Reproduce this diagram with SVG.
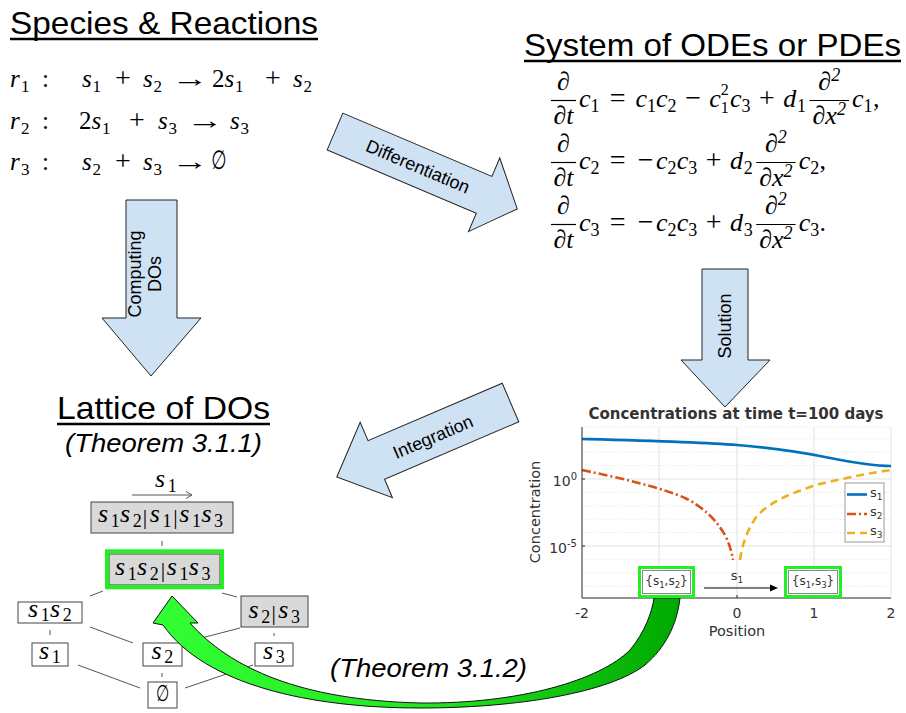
<svg xmlns="http://www.w3.org/2000/svg" width="906" height="713" viewBox="0 0 906 713">
<defs>
<style>
.t{font-family:"Liberation Sans",Arial,sans-serif;fill:#000}
.e{font-family:"Liberation Serif","DejaVu Serif",serif;fill:#000;font-size:26px}
.r{font-family:"Liberation Serif","DejaVu Serif",serif;fill:#000;font-size:25px}
.i{font-style:italic}
.s16{font-size:17px}
.s18{font-size:18px}
.sp{font-size:16px}
.op{font-size:28px}
.op2{font-size:28px}
.fb{stroke:#000;stroke-width:1.2}
.blk{fill:#cfe2f3;stroke:#222;stroke-width:1}
.lab{font-family:"Liberation Sans",Arial,sans-serif;font-size:18px;fill:#000}
.ln{stroke:#555;stroke-width:1;fill:none}
.wb{fill:#fff;stroke:#444;stroke-width:1}
.gb{fill:#d9d9d9;stroke:#444;stroke-width:1}
.lt{font-family:"Liberation Serif","DejaVu Serif",serif;font-size:26px;fill:#000}
.grn{fill:none;stroke:#22f022;stroke-width:4}
.ch{font-family:"DejaVu Sans",sans-serif;fill:#333}
.grid{stroke:#e2e2e2;stroke-width:1}
.minor{stroke:#dcdcdc;stroke-width:0.8;stroke-dasharray:1 2}
.ax{stroke:#262626;stroke-width:1;fill:none}
</style>
<linearGradient id="gg" x1="0" y1="0" x2="1" y2="0">
<stop offset="0" stop-color="#33ff33"/><stop offset="0.5" stop-color="#22e822"/><stop offset="1" stop-color="#00a800"/>
</linearGradient>
</defs>
<rect width="906" height="713" fill="#fff"/>

<!-- Titles -->
<g id="title-species">
<text class="t" x="10" y="34" font-size="32" textLength="308" lengthAdjust="spacingAndGlyphs">Species &amp; Reactions</text>
<line x1="10" y1="39" x2="318" y2="39" stroke="#000" stroke-width="2.5"/>
</g>
<g id="title-odes">
<text class="t" x="524" y="56" font-size="32" textLength="377" lengthAdjust="spacingAndGlyphs">System of ODEs or PDEs</text>
<line x1="524" y1="61" x2="901" y2="61" stroke="#000" stroke-width="2.5"/>
</g>
<g id="title-lattice">
<text class="t" x="57" y="419" font-size="32" textLength="213" lengthAdjust="spacingAndGlyphs">Lattice of DOs</text>
<line x1="57" y1="424" x2="270" y2="424" stroke="#000" stroke-width="2.5"/>
<text class="t" x="65" y="452" font-size="25" font-style="italic" textLength="197" lengthAdjust="spacingAndGlyphs">(Theorem 3.1.1)</text>
</g>

<!-- Reactions -->
<g id="reactions">
<text class="r"><tspan class="i" x="10" y="87">r</tspan><tspan class="s16" x="21" y="92">1</tspan><tspan x="42" y="87">:</tspan><tspan class="i" x="82" y="87">s</tspan><tspan class="s16" x="92.5" y="92">1</tspan><tspan class="op2" x="115.1" y="87">+</tspan><tspan class="i" x="143" y="87">s</tspan><tspan class="s16" x="153.5" y="92">2</tspan><tspan x="212" y="87">2</tspan><tspan class="i" x="224.5" y="87">s</tspan><tspan class="s16" x="235" y="92">1</tspan><tspan class="op2" x="265.1" y="87">+</tspan><tspan class="i" x="293" y="87">s</tspan><tspan class="s16" x="303.5" y="92">2</tspan></text>
<text class="r" x="0" y="0" text-anchor="middle" font-size="26" transform="translate(190,87) scale(1.5,1)">→</text>
<text class="r"><tspan class="i" x="10" y="129">r</tspan><tspan class="s16" x="21" y="134">2</tspan><tspan x="42" y="129">:</tspan><tspan x="79" y="129">2</tspan><tspan class="i" x="91.5" y="129">s</tspan><tspan class="s16" x="102" y="134">1</tspan><tspan class="op2" x="129.1" y="129">+</tspan><tspan class="i" x="158" y="129">s</tspan><tspan class="s16" x="168.5" y="134">3</tspan><tspan class="i" x="230" y="129">s</tspan><tspan class="s16" x="240.5" y="134">3</tspan></text>
<text class="r" x="0" y="0" text-anchor="middle" font-size="26" transform="translate(205,129) scale(1.5,1)">→</text>
<text class="r"><tspan class="i" x="10" y="170">r</tspan><tspan class="s16" x="21" y="175">3</tspan><tspan x="42" y="170">:</tspan><tspan class="i" x="82" y="170">s</tspan><tspan class="s16" x="92.5" y="175">2</tspan><tspan class="op2" x="115.1" y="170">+</tspan><tspan class="i" x="143" y="170">s</tspan><tspan class="s16" x="153.5" y="175">3</tspan></text>
<text class="r" x="0" y="0" text-anchor="middle" font-size="26" transform="translate(190,170) scale(1.5,1)">→</text>
<text x="0" y="0" text-anchor="middle" font-family="DejaVu Sans, sans-serif" font-size="22" transform="translate(219,169) scale(0.8,1.2)">∅</text>
</g>

<!-- Equations -->
<g id="eq1" transform="translate(0,107)">
<text class="e i" x="563.5" y="-17" text-anchor="middle">∂</text>
<line class="fb" x1="551" y1="-6.5" x2="576" y2="-6.5"/>
<text class="e i" x="563.5" y="17" text-anchor="middle">∂t</text>
<text class="e"><tspan class="i" x="579" y="0">c</tspan><tspan class="s18" x="590.5" y="5">1</tspan><tspan class="op" x="609.8" y="0">=</tspan><tspan class="i" x="635.4" y="0">c</tspan><tspan class="s18" x="646.9" y="5">1</tspan><tspan class="i" x="656.1" y="0">c</tspan><tspan class="s18" x="667.6" y="5">2</tspan><tspan class="op" x="685.2" y="0">−</tspan><tspan class="i" x="709.3" y="0">c</tspan><tspan class="sp" x="720.8" y="-12">2</tspan><tspan class="sp" x="720.8" y="6">1</tspan><tspan class="i" x="730.1" y="0">c</tspan><tspan class="s18" x="741.6" y="5">3</tspan><tspan class="op" x="759.1" y="0">+</tspan><tspan class="i" x="783.2" y="0">d</tspan><tspan class="s18" x="797" y="5">1</tspan><tspan class="i" x="852.1" y="0">c</tspan><tspan class="s18" x="863.6" y="5">1</tspan><tspan x="872.9" y="0">,</tspan></text>
<text class="e i" x="829.2" y="-17" text-anchor="middle">∂<tspan class="s18" dy="-9">2</tspan></text>
<line class="fb" x1="809.5" y1="-6.5" x2="849" y2="-6.5"/>
<text class="e i" x="829.2" y="17" text-anchor="middle">∂x<tspan class="s18" dy="-9">2</tspan></text>
</g>
<g id="eq2" transform="translate(0,169)">
<text class="e i" x="563.5" y="-17" text-anchor="middle">∂</text>
<line class="fb" x1="551" y1="-6.5" x2="576" y2="-6.5"/>
<text class="e i" x="563.5" y="17" text-anchor="middle">∂t</text>
<text class="e"><tspan class="i" x="579" y="0">c</tspan><tspan class="s18" x="590.5" y="5">2</tspan><tspan class="op" x="609.8" y="0">=</tspan><tspan class="op" x="637.8" y="0">−</tspan><tspan class="i" x="656" y="0">c</tspan><tspan class="s18" x="667.5" y="5">2</tspan><tspan class="i" x="676.8" y="0">c</tspan><tspan class="s18" x="688.3" y="5">3</tspan><tspan class="op" x="705.8" y="0">+</tspan><tspan class="i" x="729.9" y="0">d</tspan><tspan class="s18" x="743.7" y="5">2</tspan><tspan class="i" x="798.8" y="0">c</tspan><tspan class="s18" x="810.3" y="5">2</tspan><tspan x="819.6" y="0">,</tspan></text>
<text class="e i" x="775.9" y="-17" text-anchor="middle">∂<tspan class="s18" dy="-9">2</tspan></text>
<line class="fb" x1="756.2" y1="-6.5" x2="795.6" y2="-6.5"/>
<text class="e i" x="775.9" y="17" text-anchor="middle">∂x<tspan class="s18" dy="-9">2</tspan></text>
</g>
<g id="eq3" transform="translate(0,231)">
<text class="e i" x="563.5" y="-17" text-anchor="middle">∂</text>
<line class="fb" x1="551" y1="-6.5" x2="576" y2="-6.5"/>
<text class="e i" x="563.5" y="17" text-anchor="middle">∂t</text>
<text class="e"><tspan class="i" x="579" y="0">c</tspan><tspan class="s18" x="590.5" y="5">3</tspan><tspan class="op" x="609.8" y="0">=</tspan><tspan class="op" x="637.8" y="0">−</tspan><tspan class="i" x="656" y="0">c</tspan><tspan class="s18" x="667.5" y="5">2</tspan><tspan class="i" x="676.8" y="0">c</tspan><tspan class="s18" x="688.3" y="5">3</tspan><tspan class="op" x="705.8" y="0">+</tspan><tspan class="i" x="729.9" y="0">d</tspan><tspan class="s18" x="743.7" y="5">3</tspan><tspan class="i" x="798.8" y="0">c</tspan><tspan class="s18" x="810.3" y="5">3</tspan><tspan x="819.6" y="0">.</tspan></text>
<text class="e i" x="775.9" y="-17" text-anchor="middle">∂<tspan class="s18" dy="-9">2</tspan></text>
<line class="fb" x1="756.2" y1="-6.5" x2="795.6" y2="-6.5"/>
<text class="e i" x="775.9" y="17" text-anchor="middle">∂x<tspan class="s18" dy="-9">2</tspan></text>
</g>

<!-- Block arrows -->
<g id="connectors">
<g id="arrow-computing">
<polygon class="blk" points="126,200 177,200 177,318 201,318 151,376 102,318 126,318"/>
<text class="lab" transform="translate(146,274) rotate(-90)" text-anchor="middle"><tspan x="0" y="-5">Computing</tspan><tspan x="0" y="15">DOs</tspan></text>
</g>
<g id="arrow-differentiation" transform="translate(335,131.5) rotate(23)">
<polygon class="blk" points="0,-20 162,-20 162,-40 198,0 162,40 162,20 0,20"/>
<text class="lab" x="90" y="6" text-anchor="middle">Differentiation</text>
</g>
<g id="arrow-solution">
<polygon class="blk" points="702,269 748,269 748,360 770,360 725,407 681,360 702,360"/>
<text class="lab" transform="translate(731,326) rotate(-90)" text-anchor="middle" x="0" y="0">Solution</text>
</g>
<g id="arrow-integration">
<polygon class="blk" transform="translate(510.5,402.5) rotate(156.8)" points="0,-21 146,-21 146,-41 189,0 146,41 146,21 0,21"/>
<text class="lab" transform="translate(433,437) rotate(-23.2)" x="0" y="6" text-anchor="middle">Integration</text>
</g>
</g>

<!-- Chart -->
<g id="chart">
<g>
<line class="grid" x1="659" y1="427" x2="659" y2="598"/>
<line class="grid" x1="737" y1="427" x2="737" y2="598"/>
<line class="grid" x1="814" y1="427" x2="814" y2="598"/>
<line class="grid" x1="891" y1="427" x2="891" y2="598"/>
<line class="grid" x1="582" y1="479" x2="891" y2="479"/>
<line class="grid" x1="582" y1="546" x2="891" y2="546"/>
<line class="minor" x1="582" y1="427" x2="891" y2="427"/>
<line class="minor" x1="582" y1="439" x2="891" y2="439"/>
<line class="minor" x1="582" y1="452.2" x2="891" y2="452.2"/>
<line class="minor" x1="582" y1="465.6" x2="891" y2="465.6"/>
<line class="minor" x1="582" y1="492.4" x2="891" y2="492.4"/>
<line class="minor" x1="582" y1="505.8" x2="891" y2="505.8"/>
<line class="minor" x1="582" y1="519.2" x2="891" y2="519.2"/>
<line class="minor" x1="582" y1="532.6" x2="891" y2="532.6"/>
<line class="minor" x1="582" y1="559.4" x2="891" y2="559.4"/>
<line class="minor" x1="582" y1="572.8" x2="891" y2="572.8"/>
<line class="minor" x1="582" y1="586.2" x2="891" y2="586.2"/>
</g>
<path d="M582,439 C620,440 700,442 737,445 S800,452 825,457 S872,466 891,466" fill="none" stroke="#0072bd" stroke-width="2.6"/>
<path d="M582,470 C620,478 660,487 685,498 C705,508 718,522 726,537 C730,546 732,553 733,560" fill="none" stroke="#d95319" stroke-width="2.6" stroke-dasharray="9 3 2 3"/>
<path d="M740,560 C742,545 747,530 757,516 C770,502 790,493 820,484 C850,477 870,473 891,470" fill="none" stroke="#edb120" stroke-width="2.6" stroke-dasharray="8 5"/>
<path class="ax" d="M582,427 V598 H891"/>
<path class="ax" d="M659,598 v-3 M737,598 v-3 M814,598 v-3 M582,479 h3 M582,546 h3"/>
<text class="ch" x="736" y="419" text-anchor="middle" font-size="15" font-weight="bold" fill="#000">Concentrations at time t=100 days</text>
<text class="ch" x="577" y="486" text-anchor="end" font-size="14">10<tspan font-size="10" dy="-6">0</tspan></text>
<text class="ch" x="577" y="553" text-anchor="end" font-size="14">10<tspan font-size="10" dy="-6">-5</tspan></text>
<text class="ch" transform="translate(540,512) rotate(-90)" text-anchor="middle" font-size="14.5">Concentration</text>
<text class="ch" x="582" y="618" text-anchor="middle" font-size="14">-2</text>
<text class="ch" x="737" y="618" text-anchor="middle" font-size="14">0</text>
<text class="ch" x="814" y="618" text-anchor="middle" font-size="14">1</text>
<text class="ch" x="891" y="618" text-anchor="middle" font-size="14">2</text>
<text class="ch" x="737" y="636" text-anchor="middle" font-size="14.5">Position</text>
<g id="legend">
<rect x="845" y="483" width="39" height="59" fill="#fff" stroke="#999" stroke-width="1"/>
<line x1="847" y1="494.5" x2="867" y2="494.5" stroke="#0072bd" stroke-width="2.6"/>
<line x1="847" y1="514" x2="867" y2="514" stroke="#d95319" stroke-width="2.6" stroke-dasharray="9 3 2 3"/>
<line x1="847" y1="533" x2="867" y2="533" stroke="#edb120" stroke-width="2.6" stroke-dasharray="8 5"/>
<text class="ch" x="870" y="497" font-size="13">s<tspan font-size="9" dy="3">1</tspan></text>
<text class="ch" x="870" y="516" font-size="13">s<tspan font-size="9" dy="3">2</tspan></text>
<text class="ch" x="870" y="535" font-size="13">s<tspan font-size="9" dy="3">3</tspan></text>
</g>
</g>

<!-- Lattice -->
<g id="lattice-edges">
<line class="ln" x1="162" y1="541" x2="162" y2="546"/>
<line class="ln" x1="103" y1="591" x2="90" y2="596"/>
<line class="ln" x1="222" y1="593" x2="237" y2="597"/>
<line class="ln" x1="50" y1="630" x2="50" y2="635"/>
<line class="ln" x1="90" y1="627" x2="133" y2="643"/>
<line class="ln" x1="240" y1="628" x2="186" y2="642"/>
<line class="ln" x1="274" y1="633" x2="274" y2="636"/>
<line class="ln" x1="78" y1="665" x2="140" y2="688"/>
<line class="ln" x1="162" y1="673" x2="162" y2="677"/>
<line class="ln" x1="185" y1="688" x2="253" y2="665"/>
<path d="M132,495 H192 M186,491.5 L192,495 L186,498.5" class="ln" stroke="#000"/>
<text class="lt"><tspan class="i" x="155" y="487">s</tspan><tspan class="s18" x="167.7" y="492">1</tspan></text>
</g>
<g id="node-top">
<rect class="gb" x="91" y="502" width="142" height="31"/>
<text class="lt"><tspan class="i" x="98" y="522">s</tspan><tspan class="s18" x="110.7" y="527">1</tspan><tspan class="i" x="120.1" y="522">s</tspan><tspan class="s18" x="132.8" y="527">2</tspan><tspan font-size="22" x="142.8" y="524">|</tspan><tspan class="i" x="149.7" y="522">s</tspan><tspan class="s18" x="162.4" y="527">1</tspan><tspan font-size="22" x="173.2" y="524">|</tspan><tspan class="i" x="179.3" y="522">s</tspan><tspan class="s18" x="192" y="527">1</tspan><tspan class="i" x="201.4" y="522">s</tspan><tspan class="s18" x="214.1" y="527">3</tspan></text>
</g>
<g id="node-s1s2-s1s3">
<rect class="gb" x="109" y="554" width="111" height="31"/>
<rect class="grn" x="107" y="551.3" width="115" height="36"/>
<text class="lt"><tspan class="i" x="115" y="575">s</tspan><tspan class="s18" x="127.7" y="580">1</tspan><tspan class="i" x="137.1" y="575">s</tspan><tspan class="s18" x="149.8" y="580">2</tspan><tspan font-size="22" x="160.8" y="577">|</tspan><tspan class="i" x="166.7" y="575">s</tspan><tspan class="s18" x="179.4" y="580">1</tspan><tspan class="i" x="188.8" y="575">s</tspan><tspan class="s18" x="201.5" y="580">3</tspan></text>
</g>
<g id="node-s1s2">
<rect class="wb" x="18" y="602" width="64" height="21"/>
<text class="lt"><tspan class="i" x="28" y="617">s</tspan><tspan class="s18" x="40.7" y="621">1</tspan><tspan class="i" x="50.1" y="617">s</tspan><tspan class="s18" x="62.8" y="621">2</tspan></text>
</g>
<g id="node-s2-s3">
<rect class="gb" x="241" y="596" width="67" height="31"/>
<text class="lt"><tspan class="i" x="248.6" y="618">s</tspan><tspan class="s18" x="261.3" y="623">2</tspan><tspan font-size="22" x="271.5" y="620">|</tspan><tspan class="i" x="278.2" y="618">s</tspan><tspan class="s18" x="290.9" y="623">3</tspan></text>
</g>
<g id="node-s1">
<rect class="wb" x="32" y="643" width="36" height="23"/>
<text class="lt"><tspan class="i" x="39" y="659">s</tspan><tspan class="s18" x="51.7" y="663">1</tspan></text>
</g>
<g id="node-s2">
<rect class="wb" x="143" y="643" width="39" height="23"/>
<text class="lt"><tspan class="i" x="151.5" y="659">s</tspan><tspan class="s18" x="164.2" y="663">2</tspan></text>
</g>
<g id="node-s3">
<rect class="wb" x="255" y="643" width="38" height="23"/>
<text class="lt"><tspan class="i" x="263" y="659">s</tspan><tspan class="s18" x="275.7" y="663">3</tspan></text>
</g>
<g id="node-empty">
<rect class="wb" x="148" y="682" width="29" height="26"/>
<text x="0" y="0" text-anchor="middle" font-family="DejaVu Sans, sans-serif" font-size="19" transform="translate(162.5,701) scale(0.8,1.2)">∅</text>
</g>

<!-- Green curved arrow -->
<g id="arrow-theorem">
<path d="M172,596 L198,623 L190,623 C230,668 300,700 420,703 C520,704 600,680 630,650 C645,632 652,612 654,598 L680,598 C677,625 665,648 645,665 C610,692 520,708 420,708 C310,708 205,685 163,625 L153,623 Z" fill="url(#gg)" stroke="#111" stroke-width="1"/>
<text class="t" x="330" y="677" font-size="25" font-style="italic" textLength="197" lengthAdjust="spacingAndGlyphs">(Theorem 3.1.2)</text>
</g>

<!-- Chart DO boxes -->
<g id="node-chart-s1s2">
<rect x="642.5" y="570.5" width="48" height="23" fill="#fff" stroke="#888"/>
<rect x="639.5" y="567.5" width="54" height="29" fill="none" stroke="#22f022" stroke-width="3"/>
<text class="ch" x="666.5" y="585" text-anchor="middle" font-size="12">{s<tspan font-size="8.5" dy="3">1</tspan><tspan dy="-3">,s</tspan><tspan font-size="8.5" dy="3">2</tspan><tspan dy="-3">}</tspan></text>
</g>
<g id="chart-edge">
<line x1="704" y1="588" x2="771" y2="588" stroke="#000" stroke-width="1.2"/>
<polygon points="778,588 770,584.5 770,591.5" fill="#000"/>
<text class="ch" x="737" y="580" text-anchor="middle" font-size="13">s<tspan font-size="9" dy="3">1</tspan></text>
</g>
<g id="node-chart-s1s3">
<rect x="788.5" y="570.5" width="49" height="23" fill="#fff" stroke="#888"/>
<rect x="785.5" y="567.5" width="55" height="29" fill="none" stroke="#22f022" stroke-width="3"/>
<text class="ch" x="813" y="585" text-anchor="middle" font-size="12">{s<tspan font-size="8.5" dy="3">1</tspan><tspan dy="-3">,s</tspan><tspan font-size="8.5" dy="3">3</tspan><tspan dy="-3">}</tspan></text>
</g>
</svg>
